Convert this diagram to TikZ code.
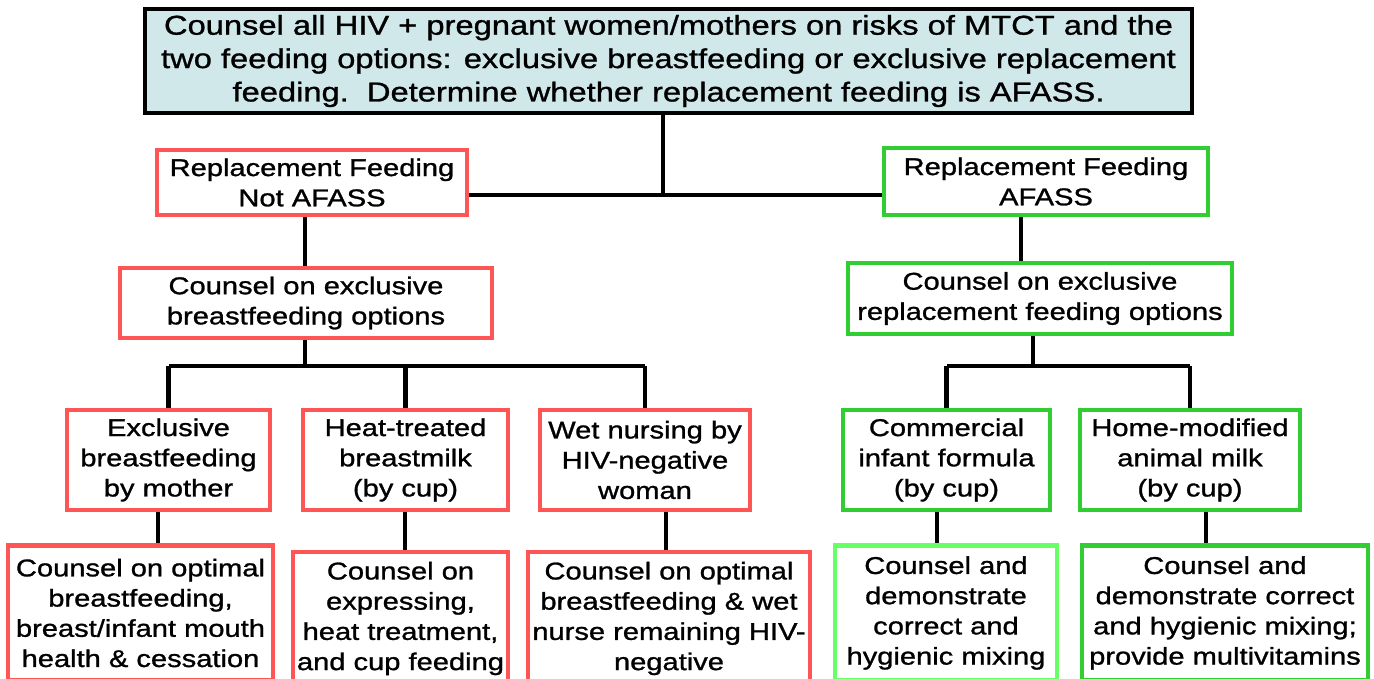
\documentclass[tikz,border=0pt]{standalone}
\usepackage{fontspec}
\setmainfont{Liberation Sans}[FakeStretch=1.2,FakeBold=1.1]
\definecolor{boxred}{RGB}{255,85,85}
\definecolor{boxgreen}{RGB}{50,205,50}
\definecolor{boxlime}{RGB}{102,255,102}
\definecolor{topfill}{RGB}{209,232,235}
\begin{document}
\begin{tikzpicture}[x=0.02cm,y=-0.02cm,
  box/.style={draw,line width=2.6pt,fill=white,align=center,inner sep=1pt,
    font=\fontsize{13.8}{17.2}\selectfont},
  notbox/.style={box,draw=boxred},
  okbox/.style={box,draw=boxgreen},
  link/.style={line width=2.8pt}]
\useasboundingbox (0,0) rectangle (1374,679);
% top box
\node[box,draw=black,fill=topfill,minimum width=20.94cm,minimum height=2.08cm,
  font=\fontsize{15.5}{19}\selectfont] (top) at (668.5,61)
  {Counsel all HIV + pregnant women/mothers on risks of MTCT and the\\
   two feeding options: exclusive breastfeeding or exclusive replacement\\
   feeding.\ \ Determine whether replacement feeding is AFASS.};
% AFASS or not
\node[notbox,minimum width=6.2cm,minimum height=1.3cm] (nafass) at (312,182.5)
  {Replacement Feeding\\Not AFASS};
\node[okbox,minimum width=6.48cm,minimum height=1.34cm] (afass) at (1046,181.5)
  {Replacement Feeding\\AFASS};
% counsel boxes
\node[notbox,minimum width=7.44cm,minimum height=1.4cm] (cbf) at (306,303)
  {Counsel on exclusive\\breastfeeding options};
\node[okbox,minimum width=7.68cm,minimum height=1.42cm] (crf) at (1040,298.5)
  {Counsel on exclusive\\replacement feeding options};
% feeding options
\node[notbox,minimum width=4.06cm,minimum height=2cm] (ebf) at (168.5,460)
  {Exclusive\\breastfeeding\\by mother};
\node[notbox,minimum width=4.1cm,minimum height=2cm] (heat) at (405.5,460)
  {Heat-treated\\breastmilk\\(by cup)};
\node[notbox,minimum width=4.2cm,minimum height=2cm] (wet) at (645,460)
  {Wet nursing by\\HIV-negative\\woman};
\node[okbox,minimum width=4.14cm,minimum height=2cm] (comm) at (946.5,460)
  {Commercial\\infant formula\\(by cup)};
\node[okbox,minimum width=4.4cm,minimum height=2cm] (home) at (1190,460)
  {Home-modified\\animal milk\\(by cup)};
% counselling per option
\node[notbox,minimum width=5.3cm,minimum height=2.7cm] (ebfc) at (140.5,613)
  {Counsel on optimal\\breastfeeding,\\breast/infant mouth\\health \& cessation};
\node[notbox,minimum width=4.3cm,minimum height=2.66cm] (heatc) at (400.5,618.5)
  {Counsel on\\expressing,\\heat treatment,\\and cup feeding};
\node[notbox,minimum width=5.64cm,minimum height=2.66cm] (wetc) at (669,618.5)
  {Counsel on optimal\\breastfeeding \& wet\\nurse remaining HIV-\\negative};
\node[box,draw=boxlime,minimum width=4.44cm,minimum height=2.7cm] (commc) at (946,613)
  {Counsel and\\demonstrate\\correct and\\hygienic mixing};
\node[okbox,minimum width=5.72cm,minimum height=2.7cm] (homec) at (1225,613)
  {Counsel and\\demonstrate correct\\and hygienic mixing;\\provide multivitamins};
% junction points
\coordinate (split) at (663,195);
\coordinate (rdrop) at (1021,0);
\coordinate (lbus) at (305,366);
\coordinate (rbus) at (1033,366);
% connectors
\draw[link] (top.south -| split) -- (split);
\draw[link] (split -| nafass.east) -- (split -| afass.west);
\draw[link] (nafass.south -| lbus) -- (cbf.north -| lbus);
\draw[link] (afass.south -| rdrop) -- (crf.north -| rdrop);
\draw[link] (cbf.south -| lbus) -- (lbus);
\draw[link] (lbus -| ebf.north) -- (lbus -| wet.north);
\foreach \n in {ebf,heat,wet}
  \draw[link] (lbus -| \n.north) -- (\n.north);
\draw[link] (crf.south -| rbus) -- (rbus);
\draw[link] (rbus -| comm.north) -- (rbus -| home.north);
\foreach \n in {comm,home}
  \draw[link] (rbus -| \n.north) -- (\n.north);
% option to counselling
\foreach \a/\b/\x in {ebf/ebfc/158,heat/heatc/405,wet/wetc/666,comm/commc/937,home/homec/1206}
  \draw[link] (\a.south -| \x,0) -- (\b.north -| \x,0);
\end{tikzpicture}
\end{document}
